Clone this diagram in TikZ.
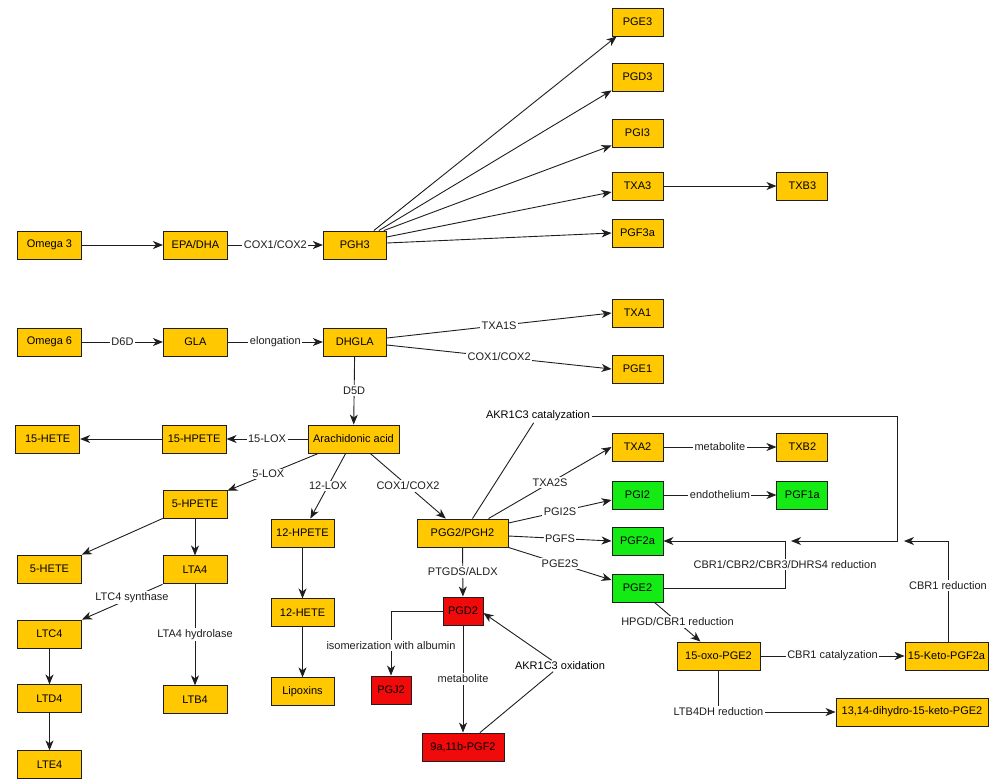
\documentclass[tikz,border=0pt]{standalone}
\usepackage{fontspec}
\setmainfont{Liberation Sans}
\usepackage{xcolor}
\usepackage{tikz}
\usetikzlibrary{arrows.meta, positioning, calc}
\definecolor{lipidorange}{RGB}{255, 200, 0}
\definecolor{vesselgreen}{RGB}{20, 235, 20}
\definecolor{inflamred}{RGB}{240, 10, 10}
\definecolor{edgegray}{RGB}{30, 30, 30}

\begin{document}
\begin{tikzpicture}[
    x=1pt, y=-1pt,
    box/.style={rectangle, draw=edgegray, line width=0.9pt, fill=lipidorange, minimum width=64pt, minimum height=28pt, inner sep=2pt, align=center, font=\fontsize{11}{13}\selectfont},
    narrow/.style={box, minimum width=51pt},
    greenbox/.style={narrow, fill=vesselgreen},
    redbox/.style={box, fill=inflamred, minimum width=40pt},
    lbl/.style={fill=white, inner sep=1.5pt, font=\fontsize{11}{13}\selectfont},
    arrow/.style={-{Stealth[length=10pt, width=8pt, inset=3pt]}, line width=0.9pt, edgegray},
    link/.style={line width=0.9pt, edgegray}
]
\useasboundingbox (0,0) rectangle (1000,780);

% Omega 3 row
\node[box] (omega3) at (49.5,245) {Omega 3};
\node[box, right=81pt of omega3] (epa) {EPA/DHA};
\node[box, right=95pt of epa, minimum width=63pt] (pgh3) {PGH3};

\node[narrow] (pge3) at (637.5,22) {PGE3};
\node[narrow] (pgd3) at (637.5,77) {PGD3};
\node[narrow] (pgi3) at (637.5,133) {PGI3};
\node[narrow] (txa3) at (637.5,186) {TXA3};
\node[narrow] (pgf3a) at (637.5,233) {PGF3a};
\node[narrow, right=113pt of txa3] (txb3) {TXB3};

% Omega 6 row
\node[box] (omega6) at (49.5,342) {Omega 6};
\node[box, right=81pt of omega6] (gla) {GLA};
\node[box, right=95pt of gla, minimum width=63pt] (dhgla) {DHGLA};
\node[narrow] (txa1) at (637.5,313) {TXA1};
\node[narrow] (pge1) at (637.5,369) {PGE1};

% Arachidonic acid and lipoxygenase products
\node[box, minimum width=91pt] (aa) at (353.5,439) {Arachidonic acid};
\node[box, left=81pt of aa] (hpete15) {15-HPETE};
\node[box, left=81.5pt of hpete15] (hete15) {15-HETE};

\node[box] (hpete5) at (195,504) {5-HPETE};
\node[box] (hete5) at (49.5,569) {5-HETE};
\node[box, below=37pt of hpete5] (lta4) {LTA4};
\node[box, below=101pt of lta4] (ltb4) {LTB4};
\node[box] (ltc4) at (49.5,634) {LTC4};
\node[box, below=36pt of ltc4] (ltd4) {LTD4};
\node[box, below=37pt of ltd4] (lte4) {LTE4};

\node[box, minimum width=63pt] (hpete12) at (302.5,533) {12-HPETE};
\node[box, minimum width=63pt, below=51pt of hpete12] (hete12) {12-HETE};
\node[box, minimum width=63pt, below=50pt of hete12] (lipoxins) {Lipoxins};

% Cyclooxygenase products
\node[box, minimum width=91pt] (pgg2) at (462.5,533) {PGG2/PGH2};
\node[narrow] (txa2) at (637.5,447) {TXA2};
\node[narrow, right=113pt of txa2] (txb2) {TXB2};
\node[greenbox] (pgi2) at (637.5,495) {PGI2};
\node[greenbox, right=113pt of pgi2] (pgf1a) {PGF1a};
\node[greenbox] (pgf2a) at (637.5,541) {PGF2a};
\node[greenbox] (pge2) at (637.5,588) {PGE2};

\node[redbox] (pgd2) at (463,611) {PGD2};
\node[redbox] (pgj2) at (391,690) {PGJ2};
\node[redbox, minimum width=82pt] (pgf2b) at (463,747) {9a,11b-PGF2};

\node[box, minimum width=83pt] (oxo) at (718.5,656) {15-oxo-PGE2};
\node[box, minimum width=83pt] (keto) at (946.5,656) {15-Keto-PGF2a};
\node[box, minimum width=152pt] (dihydro) at (912,712) {13,14-dihydro-15-keto-PGE2};

% Omega 3 arrows
\draw[arrow] (omega3) -- (epa);
\draw[arrow] (epa) -- node[lbl] {COX1/COX2} (pgh3);
\draw[arrow] ([xshift=19pt]pgh3.north) -- ([xshift=5pt]pge3.south west);
\draw[arrow] ([xshift=24pt]pgh3.north) -- ([yshift=1pt]pgd3.south west);
\draw[arrow] ([xshift=29pt]pgh3.north) -- ([yshift=2pt]pgi3.south west);
\draw[arrow] ([yshift=8pt]pgh3.east) -- ([yshift=-6pt]txa3.west);
\draw[arrow] ([yshift=2pt]pgh3.east) -- (pgf3a.west);
\draw[arrow] (txa3) -- (txb3);

% Omega 6 arrows
\draw[arrow] (omega6) -- node[lbl] {D6D} (gla);
\draw[arrow] (gla) -- node[lbl] {elongation} (dhgla);
\draw[arrow] ([yshift=4pt]dhgla.east) -- node[lbl] {TXA1S} (txa1.west);
\draw[arrow] ([yshift=-3pt]dhgla.east) -- node[lbl] {COX1/COX2} (pge1.west);
\draw[arrow] (dhgla) -- node[lbl] {D5D} (aa);

% Lipoxygenase arrows
\draw[arrow] (aa) -- node[lbl] {15-LOX} (hpete15);
\draw[arrow] (hpete15) -- (hete15);
\draw[arrow] (aa) -- node[lbl, pos=0.55] {5-LOX} (hpete5);
\draw[arrow] (aa) -- node[lbl] {12-LOX} (hpete12);
\draw[arrow] (hpete5) -- (hete5);
\draw[arrow] (hpete5) -- (lta4);
\draw[arrow] (lta4.south west) -- node[lbl, pos=0.38] {LTC4 synthase} (ltc4.north east);
\draw[arrow] (lta4) -- node[lbl] {LTA4 hydrolase} (ltb4);
\draw[arrow] (ltc4) -- (ltd4);
\draw[arrow] (ltd4) -- (lte4);
\draw[arrow] (hpete12) -- (hete12);
\draw[arrow] (hete12) -- (lipoxins);

% Cyclooxygenase arrows
\draw[arrow] (aa) -- node[lbl] {COX1/COX2} (pgg2);
\draw[arrow] ([xshift=26pt]pgg2.north) -- node[lbl] {TXA2S} (txa2.west);
\draw[arrow] ([yshift=10pt]pgg2.east) -- node[lbl] {PGI2S} ([yshift=-5pt]pgi2.west);
\draw[arrow] ([yshift=-3pt]pgg2.east) -- node[lbl] {PGFS} (pgf2a.west);
\draw[arrow] (pgg2.south east) -- node[lbl] {PGE2S} ([yshift=8pt]pge2.west);
\draw[arrow] (pgg2) -- node[lbl] {PTGDS/ALDX} (pgd2);
\draw[arrow] (txa2) -- node[lbl] {metabolite} (txb2);
\draw[arrow] (pgi2) -- node[lbl] {endothelium} (pgf1a);

% PGD2 branch
\draw[arrow] (pgd2.west) -| node[lbl, pos=0.77] {isomerization with albumin} (pgj2.north);
\draw[arrow] (pgd2) -- node[lbl] {metabolite} (pgf2b);
\node[lbl] (akrox) at (560,666) {AKR1C3 oxidation};
\draw[link] ([xshift=17pt]pgf2b.north) -- (akrox);
\draw[arrow] (akrox) -- ([yshift=-2pt]pgd2.east);

% Feedback to PGF2a
\node[lbl] (akrcat) at (538,416) {AKR1C3 catalyzation};
\coordinate (akrcorner) at (897,541);
\coordinate (akrend) at (791,541);
\coordinate (cbrcorner) at (785,541);
\coordinate (cbrend) at (904,541);
\draw[link] ([xshift=10pt]pgg2.north) -- (akrcat);
\draw[arrow] (akrcat.east) -| (akrcorner) -- (akrend);
\draw[arrow] (pge2.east) -| node[lbl, pos=0.75] {CBR1/CBR2/CBR3/DHRS4 reduction} (cbrcorner) -- (pgf2a.east);
\draw[arrow] ([xshift=1.5pt]keto.north) |- node[lbl, pos=0.28] {CBR1 reduction} (cbrend);

% PGE2 breakdown
\draw[arrow] ([xshift=17pt]pge2.south) -- node[lbl] {HPGD/CBR1 reduction} ([xshift=-18pt]oxo.north);
\draw[arrow] (oxo) -- node[lbl] {CBR1 catalyzation} (keto);
\draw[arrow] (oxo.south) |- node[lbl] {LTB4DH reduction} (dihydro.west);

\end{tikzpicture}
\end{document}
